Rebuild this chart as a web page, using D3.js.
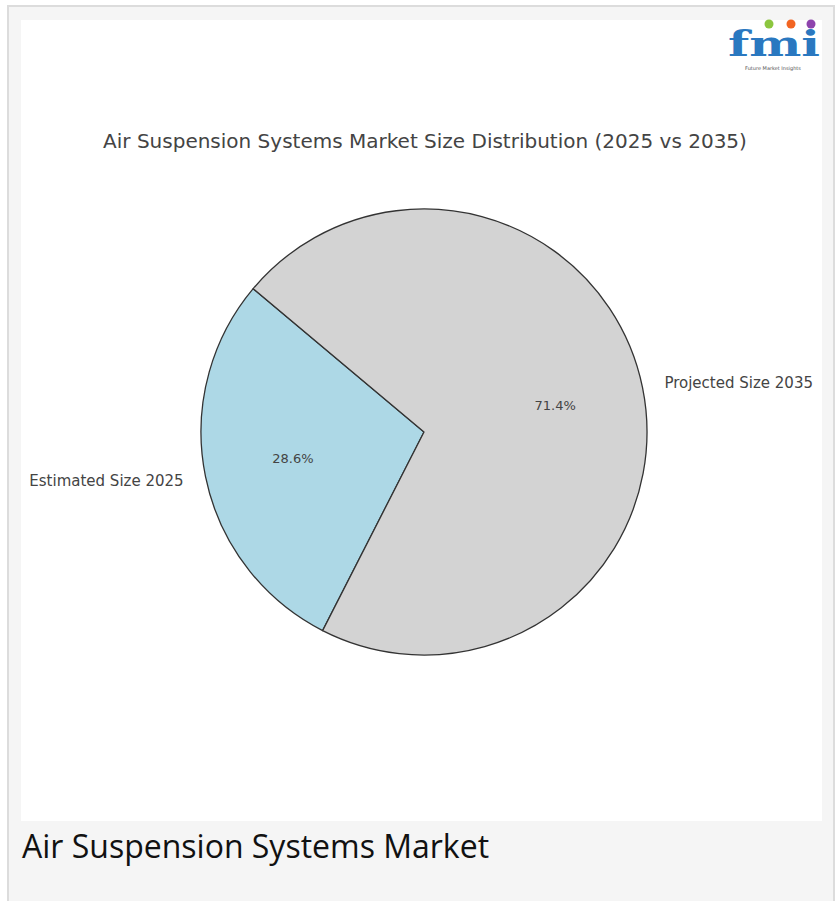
<!DOCTYPE html>
<html>
<head>
<meta charset="utf-8">
<script src="https://cdn.jsdelivr.net/npm/d3@7"></script>
<style>
  html, body { margin: 0; padding: 0; background: #fff; }
  svg { display: block; }
</style>
</head>
<body>
<div id="chart"></div>
<script>
// chart data
const categories = ["Estimated Size 2025", "Projected Size 2035"];
const shares = [28.6, 71.4];
const colors = ["#add8e6", "#d3d3d3"];
const chartTitle = "Air Suspension Systems Market Size Distribution (2025 vs 2035)";
const caption = "Air Suspension Systems Market";

const W = 838, H = 901;
const svg = d3.select("#chart").append("svg").attr("width", W).attr("height", H);

// page frame
svg.append("rect").attr("x", 0).attr("y", 0).attr("width", W).attr("height", H).attr("fill", "#fff");
svg.append("rect").attr("x", 8).attr("y", 6).attr("width", 826).attr("height", H)
    .attr("fill", "#f5f5f5").attr("stroke", "#dcdcdc").attr("stroke-width", 2);
svg.append("rect").attr("x", 21).attr("y", 20).attr("width", 801).attr("height", 801).attr("fill", "#fff");

svg.append("text")
    .attr("x", 22).attr("y", 858)
    .attr("font-family", "'Open Sans', sans-serif")
    .attr("font-size", 32)
    .attr("fill", "#111")
    .text(caption);

// logo
const logo = svg.append("g").attr("transform", "translate(727,20)");
logo.append("text")
    .attr("x", 1).attr("y", 36)
    .attr("font-family", "'DejaVu Serif', serif")
    .attr("font-weight", "bold")
    .attr("font-size", 36)
    .attr("fill", "#2a78c0")
    .attr("textLength", 92)
    .attr("lengthAdjust", "spacingAndGlyphs")
    .text("fmi");
[["#8cc63f", 42], ["#f26522", 64], ["#8e44ad", 84]].forEach(([c, x]) => {
    logo.append("circle").attr("cx", x).attr("cy", 4).attr("r", 4.5).attr("fill", c);
});
logo.append("text")
    .attr("x", 46).attr("y", 50)
    .attr("text-anchor", "middle")
    .attr("font-family", "'DejaVu Sans', sans-serif")
    .attr("font-size", 5)
    .attr("fill", "#555")
    .text("Future Market Insights");

// title
svg.append("text")
    .attr("x", 425).attr("y", 148)
    .attr("text-anchor", "middle")
    .attr("font-family", "'DejaVu Sans', sans-serif")
    .attr("font-size", 20)
    .attr("fill", "#444")
    .text(chartTitle);

// pie, matplotlib style: startangle 140, counter-clockwise
const cx = 424, cy = 432, r = 223;
const toRad = Math.PI / 180;
const pie = d3.pie().sort(null)
    .startAngle((90 - 140) * toRad)
    .endAngle((90 - 140 - 360) * toRad);
const arcs = pie(shares);
const arc = d3.arc().innerRadius(0).outerRadius(r);

const g = svg.append("g").attr("transform", `translate(${cx},${cy})`);

g.selectAll("path.slice")
    .data(arcs)
    .enter()
    .append("path")
    .attr("class", "slice")
    .attr("d", arc)
    .attr("fill", (d, i) => colors[i])
    .attr("stroke", "#333")
    .attr("stroke-width", 1.3)
    .attr("stroke-linejoin", "round");

function pos(d, k) {
    const a = (d.startAngle + d.endAngle) / 2;
    return [Math.sin(a) * r * k, -Math.cos(a) * r * k];
}

g.selectAll("text.label")
    .data(arcs)
    .enter()
    .append("text")
    .attr("class", "label")
    .attr("x", d => pos(d, 1.1)[0])
    .attr("y", d => pos(d, 1.1)[1])
    .attr("dy", "0.35em")
    .attr("text-anchor", d => pos(d, 1.1)[0] < 0 ? "end" : "start")
    .attr("font-family", "'DejaVu Sans', sans-serif")
    .attr("font-size", 15)
    .attr("fill", "#444")
    .text((d, i) => categories[i]);

g.selectAll("text.pct")
    .data(arcs)
    .enter()
    .append("text")
    .attr("class", "pct")
    .attr("x", d => pos(d, 0.6)[0])
    .attr("y", d => pos(d, 0.6)[1])
    .attr("dy", "0.35em")
    .attr("text-anchor", "middle")
    .attr("font-family", "'DejaVu Sans', sans-serif")
    .attr("font-size", 13)
    .attr("fill", "#444")
    .text(d => d.data.toFixed(1) + "%");
</script>
</body>
</html>
